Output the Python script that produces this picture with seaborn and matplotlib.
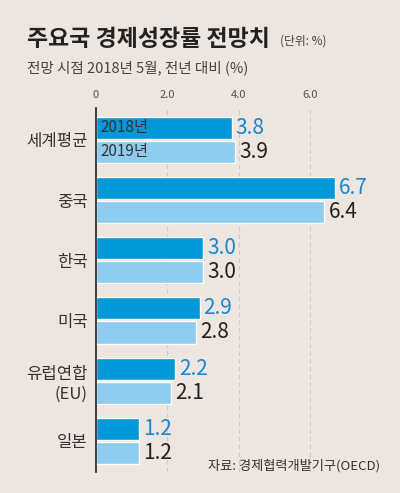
import pandas as pd
import matplotlib.pyplot as plt
import seaborn as sns

sns.set_style('white')
plt.rcParams['font.family'] = ['Noto Sans CJK KR', 'DejaVu Sans']
narrow = ['Liberation Sans Narrow', 'Noto Sans CJK KR', 'DejaVu Sans']

# 데이터
countries = ['세계평균', '중국', '한국', '미국', '유럽연합\n(EU)', '일본']
years = ['2018년', '2019년']
growth_2018 = [3.8, 6.7, 3.0, 2.9, 2.2, 1.2]
growth_2019 = [3.9, 6.4, 3.0, 2.8, 2.1, 1.2]
x_ticks = [0, 2, 4, 6]
x_tick_labels = ['0', '2.0', '4.0', '6.0']

df = pd.DataFrame({
    'country': countries * 2,
    'year': [years[0]] * len(countries) + [years[1]] * len(countries),
    'growth': growth_2018 + growth_2019,
})

bg = '#ede5df'
dark_blue = '#0098d6'
light_blue = '#8fcdf0'

fig = plt.figure(figsize=(4.0, 4.93), dpi=100, facecolor=bg)
ax = fig.add_axes([0.24, 0.043, 0.714, 0.738])
ax.set_facecolor(bg)

sns.barplot(data=df, y='country', x='growth', hue='year', orient='h',
            palette=[dark_blue, light_blue], width=0.8, gap=0.08,
            saturation=1, legend=False, ax=ax)

ax.set_xlim(0, 8)
ax.set_ylim(5.515, -0.53)

# 격자선
for t in x_ticks[1:]:
    ax.axvline(t, color='#cfc8c3', lw=0.8, ls=(0, (4, 3)), zorder=0)

ax.xaxis.tick_top()
ax.set_xticks(x_ticks)
ax.set_xticklabels(x_tick_labels, fontsize=8, color='#555555', family=narrow)
ax.tick_params(axis='x', length=0, pad=6)
ax.tick_params(axis='y', length=0, pad=6)
ax.set_yticks(range(len(countries)))
ax.set_yticklabels(countries, fontsize=12, color='#333333', linespacing=1.25)
ax.set_xlabel('')
ax.set_ylabel('')

for s in ['top', 'right', 'bottom']:
    ax.spines[s].set_visible(False)
ax.spines['left'].set_color('#222222')
ax.spines['left'].set_linewidth(1.2)

# 값 레이블
for i, (a, b) in enumerate(zip(growth_2018, growth_2019)):
    ax.annotate(f'{a:.1f}', xy=(a, i - 0.2), xytext=(3, 0), textcoords='offset points',
                va='center', ha='left', fontsize=15, color='#1a87cf', family=narrow)
    ax.annotate(f'{b:.1f}', xy=(b, i + 0.2), xytext=(3, 0), textcoords='offset points',
                va='center', ha='left', fontsize=15, color='#222222', family=narrow)

# 범례 (막대 안)
ax.text(0.12, -0.2, years[0], va='center', ha='left', fontsize=11, color='#333333', family=narrow)
ax.text(0.12, 0.2, years[1], va='center', ha='left', fontsize=11, color='#333333', family=narrow)

# 제목
fig.text(27 / 400, 1 - 40 / 493, '주요국 경제성장률 전망치', fontsize=16.5, fontweight='bold',
         color='#222222', va='center', ha='left')
fig.text(280 / 400, 1 - 41 / 493, '(단위: %)', fontsize=8.5, color='#444444',
         va='center', ha='left')
fig.text(27 / 400, 1 - 68 / 493, '전망 시점 2018년 5월, 전년 대비 (%)', fontsize=10.5,
         color='#444444', va='center', ha='left')
fig.text(380 / 400, 1 - 466 / 493, '자료: 경제협력개발기구(OECD)', fontsize=9.5,
         color='#333333', va='center', ha='right')

plt.savefig('out.png', dpi=100, facecolor=bg)
